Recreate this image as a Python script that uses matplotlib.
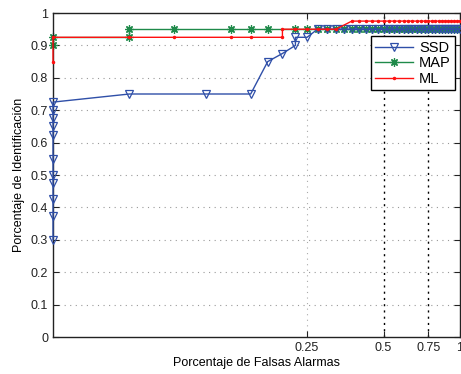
import numpy as np
import matplotlib.pyplot as plt
from matplotlib.ticker import FixedLocator, NullLocator

plt.rcParams['font.family'] = ['Liberation Sans', 'DejaVu Sans']

# false alarm rate grid (steps of 0.025) used for the dense tail
tail_x = [round(0.025 * k, 3) for k in range(15, 41)]

ssd_x = [0.025] * 11 + [0.05, 0.1, 0.15, 0.175, 0.2, 0.225, 0.225, 0.25, 0.275, 0.3, 0.325, 0.35] + tail_x
ssd_y = [0.3, 0.375, 0.425, 0.475, 0.5, 0.55, 0.625, 0.65, 0.675, 0.7, 0.725,
         0.75, 0.75, 0.75, 0.85, 0.875, 0.9, 0.925, 0.925, 0.95, 0.95, 0.95, 0.95] + [0.95] * len(tail_x)

map_x = [0.025, 0.025, 0.05, 0.05, 0.075, 0.125, 0.15, 0.175, 0.225, 0.25, 0.275, 0.3, 0.325, 0.35] + tail_x
map_y = [0.9, 0.925, 0.925, 0.95, 0.95, 0.95, 0.95, 0.95, 0.95, 0.95, 0.95, 0.95, 0.95, 0.95] + [0.95] * len(tail_x)

ml_x = [0.025, 0.025, 0.05, 0.075, 0.125, 0.15, 0.2, 0.2, 0.225, 0.25, 0.275, 0.3, 0.325] + tail_x
ml_y = [0.85, 0.925, 0.925, 0.925, 0.925, 0.925, 0.925, 0.95, 0.95, 0.95, 0.95, 0.95, 0.95] + [0.975] * len(tail_x)

x_ticks = [0.25, 0.5, 0.75, 1]
x_tick_labels = ["0.25", "0.5", "0.75", "1"]
y_ticks = [0, 0.1, 0.2, 0.3, 0.4, 0.5, 0.6, 0.7, 0.8, 0.9, 1]
y_tick_labels = ["0", "0.1", "0.2", "0.3", "0.4", "0.5", "0.6", "0.7", "0.8", "0.9", "1"]

fig = plt.figure(figsize=(4.61, 3.74), dpi=100)
ax = fig.add_axes([53 / 461, 1 - 337 / 374, 407 / 461, 324 / 374])

ax.set_xscale('log')
ax.set_xlim(0.025, 1)
ax.set_ylim(0, 1)

# grid first so the curves sit on top
for yv in y_ticks[1:-1]:
    ax.axhline(yv, color='#999999', ls=(0, (1, 4)), lw=0.8, zorder=0)
ax.axvline(0.25, color='#aaaaaa', ls=(0, (1, 4)), lw=0.8, zorder=0)
for xv in [0.5, 0.75]:
    ax.axvline(xv, color='black', ls=(0, (1.5, 3)), lw=1.0, zorder=0)

ax.plot(ssd_x, ssd_y, color='#2f4fa8', lw=1.0, marker='v', ms=6,
        mfc='none', mec='#2f4fa8', mew=0.9, label='SSD', zorder=3, clip_on=False)
ax.plot(map_x, map_y, color='#1f8a4a', lw=1.0, marker=(8, 2, 0), ms=6,
        mec='#1f8a4a', mew=0.9, label='MAP', zorder=2, clip_on=False)
ax.plot(ml_x, ml_y, color='#ff1010', lw=1.0, marker='.', ms=3,
        label='ML', zorder=4, clip_on=False)

ax.xaxis.set_major_locator(FixedLocator(x_ticks))
ax.xaxis.set_minor_locator(NullLocator())
ax.set_xticklabels(x_tick_labels)
ax.set_yticks(y_ticks)
ax.set_yticklabels(y_tick_labels)
ax.tick_params(direction='in', top=True, right=True, labelsize=9,
               length=4, width=0.8, colors='#222222')
for s in ax.spines.values():
    s.set_linewidth(1.0)
    s.set_color('#222222')

ax.set_xlabel('Porcentaje de Falsas Alarmas', fontsize=9, labelpad=2)
ax.set_ylabel('Porcentaje de Identificación', fontsize=9, labelpad=4)

leg = ax.legend(loc='upper right', bbox_to_anchor=(0.988, 0.928), fontsize=10.5,
                fancybox=False, edgecolor='black', framealpha=1,
                handlelength=2.6, borderpad=0.3, labelspacing=0.1,
                handletextpad=0.4, borderaxespad=0.0)
leg.get_frame().set_linewidth(1.0)

fig.savefig('out.png', dpi=100)
